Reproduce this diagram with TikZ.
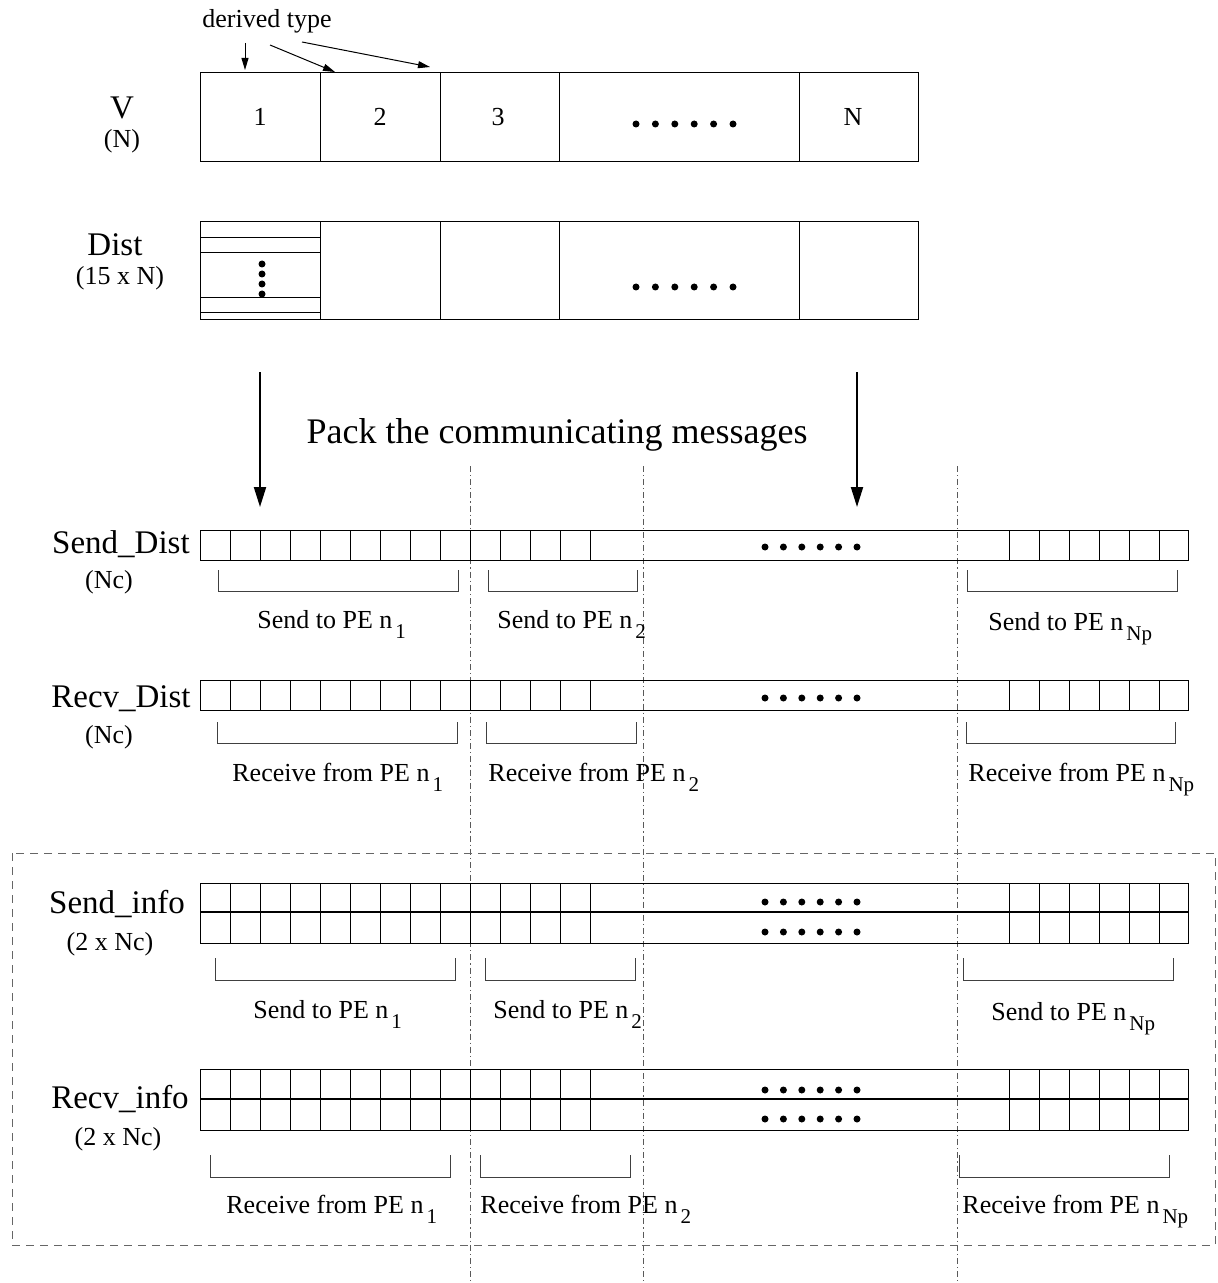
\documentclass[tikz,border=0pt]{standalone}
\usepackage{fontspec}
\setmainfont{Liberation Serif}
\usetikzlibrary{arrows.meta}

\newcommand{\subn}[1]{\hspace{1.5pt}\raisebox{-5pt}{\fontsize{10.5}{12}\selectfont #1}}

% row of cells: top, bottom
\newcommand{\cellrow}[2]{%
  \draw[cellline] (200,#1) rectangle (1188,#2);
  \foreach \cx in {230,260,...,590} \draw[cellline] (\cx,#1) -- (\cx,#2);
  \foreach \cx in {1009,1039,...,1159} \draw[cellline] (\cx,#1) -- (\cx,#2);
}
% six dots: first x, step, y
\newcommand{\dotrow}[3]{%
  \foreach \k in {0,...,5} \fill ({#1+\k*#2},#3) circle (1.75pt);
}
% bracket under a group: left, right, top, bottom
\newcommand{\grpbracket}[4]{%
  \draw[bracketline] (#1,#3) -- (#1,#4) -- (#2,#4) -- (#2,#3);
}

\begin{document}
\begin{tikzpicture}[x=0.5pt,y=-0.5pt,
    cellline/.style={line width=0.5pt},
    midline/.style={line width=1.2pt},
    bracketline/.style={line width=0.5pt, draw=black!75},
    sepline/.style={line width=0.5pt, draw=black!65, dash pattern=on 3pt off 1.5pt on 0.6pt off 1.5pt},
    groupbox/.style={line width=0.5pt, draw=black!60, dash pattern=on 4pt off 3pt},
    rowname/.style={font=\fontsize{16.5}{18}\selectfont, anchor=base, inner sep=0pt},
    rowsize/.style={font=\fontsize{13}{15}\selectfont, anchor=base, inner sep=0pt},
    peltext/.style={font=\fontsize{13}{15}\selectfont, anchor=base west, inner sep=0pt},
    small arrow/.style={-{Triangle[length=6pt,width=3.5pt]}, line width=0.5pt},
    big arrow/.style={-{Triangle[length=10pt,width=6pt]}, line width=1pt}]
    \useasboundingbox (0,0) rectangle (1217,1283);

    % V array
    \draw[cellline] (200,73) rectangle (918,162);
    \foreach \cx in {320,440,559,799} \draw[cellline] (\cx,73) -- (\cx,162);
    \node[rowsize, anchor=center] (v1) at (260,117) {1};
    \node[rowsize, anchor=center] (v2) at (380,117) {2};
    \node[rowsize, anchor=center] (v3) at (498,117) {3};
    \node[rowsize, anchor=center] (vn) at (853,117) {N};
    \dotrow{636}{19.4}{124}
    \node[rowname] (vlbl) at (122,119) {V};
    \node[rowsize] (vsize) at (122,148) {(N)};

    % derived type
    \node[rowsize] (dtype) at (267,28) {derived type};
    \coordinate (dtA) at (245,43);
    \coordinate (dtB) at (270,45);
    \coordinate (dtC) at (302,42);
    \coordinate (vtop1) at (245,70);
    \coordinate (vtop2) at (335,72);
    \coordinate (vtop3) at (430,67);
    \draw[small arrow] (dtA) -- (vtop1);
    \draw[small arrow] (dtB) -- (vtop2);
    \draw[small arrow] (dtC) -- (vtop3);

    % Dist array
    \draw[cellline] (200,222) rectangle (918,320);
    \foreach \cx in {320,440,559,799} \draw[cellline] (\cx,222) -- (\cx,320);
    \foreach \cy in {238,253,298,313} \draw[cellline] (200,\cy) -- (320,\cy);
    \foreach \cy in {264,274,284,294} \fill (262,\cy) circle (1.75pt);
    \dotrow{636}{19.4}{287}
    \node[rowname] (distlbl) at (115,256) {Dist};
    \node[rowsize] (distsize) at (120,285) {(15 x N)};

    % Packing
    \coordinate (distL) at (260,372);
    \coordinate (distR) at (857,372);
    \coordinate (sendL) at (260,507);
    \coordinate (sendR) at (857,507);
    \draw[big arrow] (distL) -- (sendL);
    \draw[big arrow] (distR) -- (sendR);
    \node[font=\fontsize{18}{21}\selectfont, anchor=base, inner sep=0pt] (packlbl) at (557,443) {Pack the communicating messages};

    % Separators
    \foreach \sx in {470,643,957} \draw[sepline] (\sx,466) -- (\sx,1283);

    % Send_Dist
    \cellrow{530}{560}
    \dotrow{765}{18.4}{547}
    \node[rowname] (sdlbl) at (121,553) {Send\_Dist};
    \node[rowsize] (sdsize) at (109,588) {(Nc)};
    \grpbracket{218}{458}{570}{591}
    \grpbracket{488}{637}{570}{591}
    \grpbracket{967}{1177}{570}{591}
    \node[peltext] (sd1) at (257,628) {Send to PE n\subn{1}};
    \node[peltext] (sd2) at (497,628) {Send to PE n\subn{2}};
    \node[peltext] (sd3) at (988,630) {Send to PE n\subn{Np}};

    % Recv_Dist
    \cellrow{680}{710}
    \dotrow{765}{18.4}{698}
    \node[rowname] (rdlbl) at (121,707) {Recv\_Dist};
    \node[rowsize] (rdsize) at (109,743) {(Nc)};
    \grpbracket{217}{457}{722}{743}
    \grpbracket{486}{636}{722}{743}
    \grpbracket{966}{1175}{722}{743}
    \node[peltext] (rd1) at (232,781) {Receive from PE n\subn{1}};
    \node[peltext] (rd2) at (488,781) {Receive from PE n\subn{2}};
    \node[peltext] (rd3) at (968,781) {Receive from PE n\subn{Np}};

    % Info block
    \draw[groupbox] (12,853) rectangle (1215,1245);

    % Send_info
    \cellrow{883}{943}
    \draw[midline] (200,912) -- (1188,912);
    \dotrow{765}{18.4}{902}
    \dotrow{765}{18.4}{932}
    \node[rowname] (silbl) at (117,913) {Send\_info};
    \node[rowsize] (sisize) at (110,950) {(2 x Nc)};
    \grpbracket{215}{455}{958}{980}
    \grpbracket{485}{635}{958}{980}
    \grpbracket{963}{1173}{958}{980}
    \node[peltext] (si1) at (253,1018) {Send to PE n\subn{1}};
    \node[peltext] (si2) at (493,1018) {Send to PE n\subn{2}};
    \node[peltext] (si3) at (991,1020) {Send to PE n\subn{Np}};

    % Recv_info
    \cellrow{1069}{1130}
    \draw[midline] (200,1099) -- (1188,1099);
    \dotrow{765}{18.4}{1090}
    \dotrow{765}{18.4}{1119}
    \node[rowname] (rilbl) at (120,1108) {Recv\_info};
    \node[rowsize] (risize) at (118,1145) {(2 x Nc)};
    \grpbracket{210}{450}{1155}{1177}
    \grpbracket{480}{630}{1155}{1177}
    \grpbracket{959}{1169}{1155}{1177}
    \node[peltext] (ri1) at (226,1213) {Receive from PE n\subn{1}};
    \node[peltext] (ri2) at (480,1213) {Receive from PE n\subn{2}};
    \node[peltext] (ri3) at (962,1213) {Receive from PE n\subn{Np}};
\end{tikzpicture}
\end{document}
